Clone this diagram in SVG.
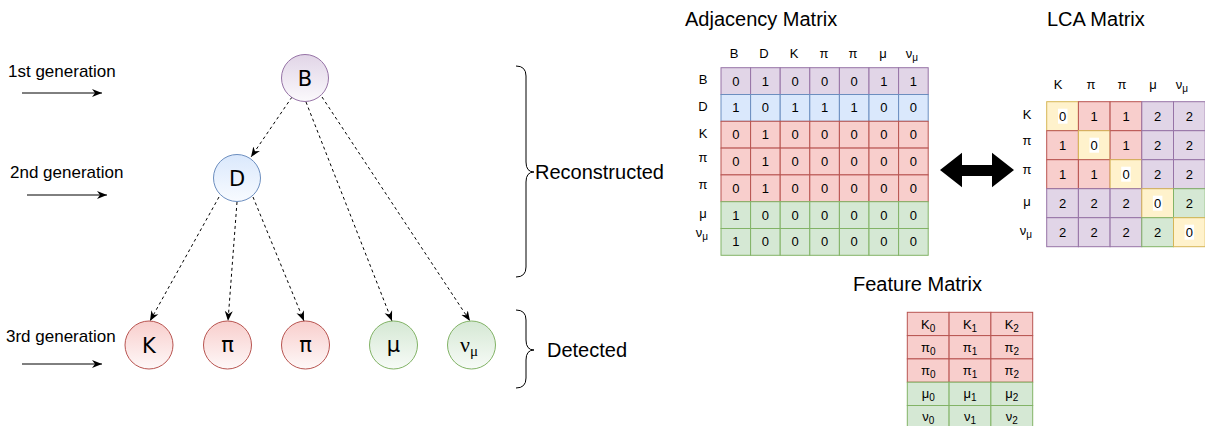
<svg xmlns="http://www.w3.org/2000/svg" width="1205" height="426" viewBox="0 0 1205 426">
<defs>
<style>
text{font-family:"Liberation Sans",Arial,sans-serif;fill:#000}
.lbl{font-size:17px}
.big{font-size:20px}
.hdr{font-size:13px;text-anchor:middle}
.val{font-size:13px;text-anchor:middle}
.nt{font-family:"DejaVu Sans",sans-serif;font-size:21px;text-anchor:middle}
.pu{fill:#e1d5e7;stroke:#9673a6;stroke-width:1}
.bl{fill:#dae8fc;stroke:#6c8ebf;stroke-width:1}
.rd{fill:#f8cecc;stroke:#b85450;stroke-width:1}
.gr{fill:#d5e8d4;stroke:#82b366;stroke-width:1}
.ye{fill:#fff2cc;stroke:#d6b656;stroke-width:1}
.edge{fill:none;stroke:#000;stroke-width:1;stroke-dasharray:3 3}
.solid{fill:none;stroke:#000;stroke-width:1}
.brace{fill:none;stroke:#000;stroke-width:1}
</style>
<marker id="arr" viewBox="0 0 10 10" refX="10" refY="5" markerWidth="10" markerHeight="10" markerUnits="userSpaceOnUse" orient="auto">
<path d="M0,1 L10,5 L0,9 L3,5 z" fill="#000"/>
</marker>
<linearGradient id="gPu" x1="0" y1="0" x2="0" y2="1"><stop offset="0" stop-color="#e1d5e7"/><stop offset="1" stop-color="#fbf9fc"/></linearGradient>
<linearGradient id="gBl" x1="0" y1="0" x2="0" y2="1"><stop offset="0" stop-color="#dae8fc"/><stop offset="1" stop-color="#f8fbff"/></linearGradient>
<linearGradient id="gRd" x1="0" y1="0" x2="0" y2="1"><stop offset="0" stop-color="#f8cecc"/><stop offset="1" stop-color="#fef8f8"/></linearGradient>
<linearGradient id="gGr" x1="0" y1="0" x2="0" y2="1"><stop offset="0" stop-color="#d5e8d4"/><stop offset="1" stop-color="#f7fbf7"/></linearGradient>
</defs>
<rect width="1205" height="426" fill="#fff"/>

<!-- generation labels -->
<g id="gen1"><text class="lbl" x="8" y="77">1st generation</text><line class="solid" x1="22" y1="93" x2="102" y2="93" marker-end="url(#arr)"/></g>
<g id="gen2"><text class="lbl" x="10" y="178">2nd generation</text><line class="solid" x1="27" y1="195" x2="107" y2="195" marker-end="url(#arr)"/></g>
<g id="gen3"><text class="lbl" x="6" y="342">3rd generation</text><line class="solid" x1="22" y1="364" x2="102" y2="364" marker-end="url(#arr)"/></g>

<!-- connectors -->
<g id="connectors">
<line class="edge" x1="292" y1="97" x2="251" y2="157" marker-end="url(#arr)"/>
<line class="edge" x1="306" y1="102" x2="392" y2="321" marker-end="url(#arr)"/>
<line class="edge" x1="322" y1="97" x2="470" y2="321" marker-end="url(#arr)"/>
<line class="edge" x1="219" y1="197" x2="150" y2="321" marker-end="url(#arr)"/>
<line class="edge" x1="237" y1="202" x2="228" y2="321" marker-end="url(#arr)"/>
<line class="edge" x1="253" y1="197" x2="304" y2="321" marker-end="url(#arr)"/>
</g>

<!-- tree nodes -->
<g id="nodeB"><circle cx="305" cy="78" r="23.5" fill="url(#gPu)" stroke="#9673a6"/><text class="nt" x="305" y="86">B</text></g>
<g id="nodeD"><circle cx="237" cy="178" r="23.5" fill="url(#gBl)" stroke="#6c8ebf"/><text class="nt" x="237" y="186">D</text></g>
<g id="nodeK"><circle cx="149" cy="345" r="24" fill="url(#gRd)" stroke="#b85450"/><text class="nt" x="149" y="353">K</text></g>
<g id="nodePi1"><circle cx="227.5" cy="345" r="24" fill="url(#gRd)" stroke="#b85450"/><text class="nt" x="227.5" y="352">π</text></g>
<g id="nodePi2"><circle cx="305.5" cy="345" r="24" fill="url(#gRd)" stroke="#b85450"/><text class="nt" x="305.5" y="352">π</text></g>
<g id="nodeMu"><circle cx="393.5" cy="345" r="24" fill="url(#gGr)" stroke="#82b366"/><text class="nt" x="393.5" y="352">μ</text></g>
<g id="nodeNu"><circle cx="471.5" cy="345" r="24" fill="url(#gGr)" stroke="#82b366"/><text x="469" y="352" style="font-family:'Liberation Serif',serif;font-size:22px;text-anchor:middle">ν<tspan font-size="15" dy="4">μ</tspan></text></g>

<!-- braces -->
<g id="reconstructed">
<path class="brace" d="M516,66 Q526,66 526,76 L526,162 Q526,172 534,172 Q526,172 526,182 L526,267 Q526,277 516,277"/>
<text class="big" x="535" y="179">Reconstructed</text>
</g>
<g id="detected">
<path class="brace" d="M516,310 Q526,310 526,320 L526,340 Q526,350 534,350 Q526,350 526,360 L526,378 Q526,388 516,388"/>
<text class="big" x="547" y="357">Detected</text>
</g>

<!-- Adjacency matrix -->
<g id="adjacency">
<text class="big" x="685" y="26">Adjacency Matrix</text>
<g class="hdr-row">
<text class="hdr" x="734" y="58">B</text>
<text class="hdr" x="764" y="58">D</text>
<text class="hdr" x="794" y="58">K</text>
<text class="hdr" x="824" y="58">π</text>
<text class="hdr" x="853" y="58">π</text>
<text class="hdr" x="883" y="58">μ</text>
<text class="hdr" x="912" y="58">ν<tspan font-size="10" dy="3">μ</tspan></text>
</g>
<text class="hdr" x="703" y="84">B</text>
<text class="hdr" x="703" y="111">D</text>
<text class="hdr" x="703" y="138">K</text>
<text class="hdr" x="703" y="162">π</text>
<text class="hdr" x="703" y="189">π</text>
<text class="hdr" x="703" y="218">μ</text>
<text class="hdr" x="702" y="237">ν<tspan font-size="10" dy="3">μ</tspan></text>
<g id="adjR1">
<rect class="pu" x="721" y="67.7" width="29.6" height="26.8"/><rect class="pu" x="750.6" y="67.7" width="29.6" height="26.8"/><rect class="pu" x="780.2" y="67.7" width="29.6" height="26.8"/><rect class="pu" x="809.8" y="67.7" width="29.6" height="26.8"/><rect class="pu" x="839.4" y="67.7" width="29.6" height="26.8"/><rect class="pu" x="869" y="67.7" width="29.6" height="26.8"/><rect class="pu" x="898.6" y="67.7" width="29.6" height="26.8"/>
<text class="val" y="85.6"><tspan x="735.8">0</tspan><tspan x="765.4">1</tspan><tspan x="795">0</tspan><tspan x="824.6">0</tspan><tspan x="854.2">0</tspan><tspan x="883.8">1</tspan><tspan x="913.4">1</tspan></text>
</g>
<g id="adjR2">
<rect class="bl" x="721" y="94.5" width="29.6" height="26.8"/><rect class="bl" x="750.6" y="94.5" width="29.6" height="26.8"/><rect class="bl" x="780.2" y="94.5" width="29.6" height="26.8"/><rect class="bl" x="809.8" y="94.5" width="29.6" height="26.8"/><rect class="bl" x="839.4" y="94.5" width="29.6" height="26.8"/><rect class="bl" x="869" y="94.5" width="29.6" height="26.8"/><rect class="bl" x="898.6" y="94.5" width="29.6" height="26.8"/>
<text class="val" y="112.4"><tspan x="735.8">1</tspan><tspan x="765.4">0</tspan><tspan x="795">1</tspan><tspan x="824.6">1</tspan><tspan x="854.2">1</tspan><tspan x="883.8">0</tspan><tspan x="913.4">0</tspan></text>
</g>
<g id="adjR3">
<rect class="rd" x="721" y="121.3" width="29.6" height="26.8"/><rect class="rd" x="750.6" y="121.3" width="29.6" height="26.8"/><rect class="rd" x="780.2" y="121.3" width="29.6" height="26.8"/><rect class="rd" x="809.8" y="121.3" width="29.6" height="26.8"/><rect class="rd" x="839.4" y="121.3" width="29.6" height="26.8"/><rect class="rd" x="869" y="121.3" width="29.6" height="26.8"/><rect class="rd" x="898.6" y="121.3" width="29.6" height="26.8"/>
<text class="val" y="139.2"><tspan x="735.8">0</tspan><tspan x="765.4">1</tspan><tspan x="795">0</tspan><tspan x="824.6">0</tspan><tspan x="854.2">0</tspan><tspan x="883.8">0</tspan><tspan x="913.4">0</tspan></text>
</g>
<g id="adjR4">
<rect class="rd" x="721" y="148.1" width="29.6" height="26.8"/><rect class="rd" x="750.6" y="148.1" width="29.6" height="26.8"/><rect class="rd" x="780.2" y="148.1" width="29.6" height="26.8"/><rect class="rd" x="809.8" y="148.1" width="29.6" height="26.8"/><rect class="rd" x="839.4" y="148.1" width="29.6" height="26.8"/><rect class="rd" x="869" y="148.1" width="29.6" height="26.8"/><rect class="rd" x="898.6" y="148.1" width="29.6" height="26.8"/>
<text class="val" y="166"><tspan x="735.8">0</tspan><tspan x="765.4">1</tspan><tspan x="795">0</tspan><tspan x="824.6">0</tspan><tspan x="854.2">0</tspan><tspan x="883.8">0</tspan><tspan x="913.4">0</tspan></text>
</g>
<g id="adjR5">
<rect class="rd" x="721" y="174.9" width="29.6" height="26.8"/><rect class="rd" x="750.6" y="174.9" width="29.6" height="26.8"/><rect class="rd" x="780.2" y="174.9" width="29.6" height="26.8"/><rect class="rd" x="809.8" y="174.9" width="29.6" height="26.8"/><rect class="rd" x="839.4" y="174.9" width="29.6" height="26.8"/><rect class="rd" x="869" y="174.9" width="29.6" height="26.8"/><rect class="rd" x="898.6" y="174.9" width="29.6" height="26.8"/>
<text class="val" y="192.8"><tspan x="735.8">0</tspan><tspan x="765.4">1</tspan><tspan x="795">0</tspan><tspan x="824.6">0</tspan><tspan x="854.2">0</tspan><tspan x="883.8">0</tspan><tspan x="913.4">0</tspan></text>
</g>
<g id="adjR6">
<rect class="gr" x="721" y="201.7" width="29.6" height="26.8"/><rect class="gr" x="750.6" y="201.7" width="29.6" height="26.8"/><rect class="gr" x="780.2" y="201.7" width="29.6" height="26.8"/><rect class="gr" x="809.8" y="201.7" width="29.6" height="26.8"/><rect class="gr" x="839.4" y="201.7" width="29.6" height="26.8"/><rect class="gr" x="869" y="201.7" width="29.6" height="26.8"/><rect class="gr" x="898.6" y="201.7" width="29.6" height="26.8"/>
<text class="val" y="219.6"><tspan x="735.8">1</tspan><tspan x="765.4">0</tspan><tspan x="795">0</tspan><tspan x="824.6">0</tspan><tspan x="854.2">0</tspan><tspan x="883.8">0</tspan><tspan x="913.4">0</tspan></text>
</g>
<g id="adjR7">
<rect class="gr" x="721" y="228.5" width="29.6" height="26.8"/><rect class="gr" x="750.6" y="228.5" width="29.6" height="26.8"/><rect class="gr" x="780.2" y="228.5" width="29.6" height="26.8"/><rect class="gr" x="809.8" y="228.5" width="29.6" height="26.8"/><rect class="gr" x="839.4" y="228.5" width="29.6" height="26.8"/><rect class="gr" x="869" y="228.5" width="29.6" height="26.8"/><rect class="gr" x="898.6" y="228.5" width="29.6" height="26.8"/>
<text class="val" y="246.4"><tspan x="735.8">1</tspan><tspan x="765.4">0</tspan><tspan x="795">0</tspan><tspan x="824.6">0</tspan><tspan x="854.2">0</tspan><tspan x="883.8">0</tspan><tspan x="913.4">0</tspan></text>
</g>
</g>

<!-- double arrow -->
<g id="dblarrow"><polygon points="940,170 962,152.7 962,165 992,165 992,152.7 1014,170 992,187.3 992,176 962,176 962,187.3" fill="#000"/></g>

<!-- LCA matrix -->
<g id="lca">
<text class="big" x="1047" y="26">LCA Matrix</text>
<text class="hdr" x="1058" y="89">K</text>
<text class="hdr" x="1091" y="89">π</text>
<text class="hdr" x="1122" y="89">π</text>
<text class="hdr" x="1153" y="89">μ</text>
<text class="hdr" x="1182" y="89">ν<tspan font-size="10" dy="3">μ</tspan></text>
<text class="hdr" x="1027" y="119">K</text>
<text class="hdr" x="1027" y="145">π</text>
<text class="hdr" x="1027" y="174">π</text>
<text class="hdr" x="1027" y="206">μ</text>
<text class="hdr" x="1026" y="235">ν<tspan font-size="10" dy="3">μ</tspan></text>
<g id="lcaR1">
<rect class="ye" x="1046.7" y="101.7" width="31.7" height="29"/><rect class="rd" x="1078.4" y="101.7" width="31.7" height="29"/><rect class="rd" x="1110.1" y="101.7" width="31.7" height="29"/><rect class="pu" x="1141.8" y="101.7" width="31.7" height="29"/><rect class="pu" x="1173.5" y="101.7" width="31.7" height="29"/>
<rect x="1058" y="108.7" width="9.5" height="15" fill="#fff"/>
<text class="val" y="120.7"><tspan x="1062.5">0</tspan><tspan x="1094.2">1</tspan><tspan x="1126">1</tspan><tspan x="1157.6">2</tspan><tspan x="1189.3">2</tspan></text>
</g>
<g id="lcaR2">
<rect class="rd" x="1046.7" y="130.7" width="31.7" height="29"/><rect class="ye" x="1078.4" y="130.7" width="31.7" height="29"/><rect class="rd" x="1110.1" y="130.7" width="31.7" height="29"/><rect class="pu" x="1141.8" y="130.7" width="31.7" height="29"/><rect class="pu" x="1173.5" y="130.7" width="31.7" height="29"/>
<rect x="1089.5" y="137.7" width="9.5" height="15" fill="#fff"/>
<text class="val" y="149.7"><tspan x="1062.5">1</tspan><tspan x="1094.2">0</tspan><tspan x="1126">1</tspan><tspan x="1157.6">2</tspan><tspan x="1189.3">2</tspan></text>
</g>
<g id="lcaR3">
<rect class="rd" x="1046.7" y="159.7" width="31.7" height="29"/><rect class="rd" x="1078.4" y="159.7" width="31.7" height="29"/><rect class="ye" x="1110.1" y="159.7" width="31.7" height="29"/><rect class="pu" x="1141.8" y="159.7" width="31.7" height="29"/><rect class="pu" x="1173.5" y="159.7" width="31.7" height="29"/>
<rect x="1121.2" y="166.7" width="9.5" height="15" fill="#fff"/>
<text class="val" y="178.7"><tspan x="1062.5">1</tspan><tspan x="1094.2">1</tspan><tspan x="1126">0</tspan><tspan x="1157.6">2</tspan><tspan x="1189.3">2</tspan></text>
</g>
<g id="lcaR4">
<rect class="pu" x="1046.7" y="188.7" width="31.7" height="29"/><rect class="pu" x="1078.4" y="188.7" width="31.7" height="29"/><rect class="pu" x="1110.1" y="188.7" width="31.7" height="29"/><rect class="ye" x="1141.8" y="188.7" width="31.7" height="29"/><rect class="gr" x="1173.5" y="188.7" width="31.7" height="29"/>
<rect x="1152.9" y="195.7" width="9.5" height="15" fill="#fff"/>
<text class="val" y="207.7"><tspan x="1062.5">2</tspan><tspan x="1094.2">2</tspan><tspan x="1126">2</tspan><tspan x="1157.6">0</tspan><tspan x="1189.3">2</tspan></text>
</g>
<g id="lcaR5">
<rect class="pu" x="1046.7" y="217.7" width="31.7" height="29"/><rect class="pu" x="1078.4" y="217.7" width="31.7" height="29"/><rect class="pu" x="1110.1" y="217.7" width="31.7" height="29"/><rect class="gr" x="1141.8" y="217.7" width="31.7" height="29"/><rect class="ye" x="1173.5" y="217.7" width="31.7" height="29"/>
<rect x="1184.6" y="224.7" width="9.5" height="15" fill="#fff"/>
<text class="val" y="236.7"><tspan x="1062.5">2</tspan><tspan x="1094.2">2</tspan><tspan x="1126">2</tspan><tspan x="1157.6">2</tspan><tspan x="1189.3">0</tspan></text>
</g>
</g>

<!-- Feature matrix -->
<g id="feature">
<text class="big" x="853" y="291">Feature Matrix</text>
<g id="fR1">
<rect class="rd" x="907.3" y="312.3" width="41.8" height="23.3"/><rect class="rd" x="949.1" y="312.3" width="41.8" height="23.3"/><rect class="rd" x="990.9" y="312.3" width="41.8" height="23.3"/>
<text class="val" x="928.2" y="328.5">K<tspan font-size="10" dy="3">0</tspan></text><text class="val" x="970" y="328.5">K<tspan font-size="10" dy="3">1</tspan></text><text class="val" x="1011.8" y="328.5">K<tspan font-size="10" dy="3">2</tspan></text>
</g>
<g id="fR2">
<rect class="rd" x="907.3" y="335.6" width="41.8" height="23.3"/><rect class="rd" x="949.1" y="335.6" width="41.8" height="23.3"/><rect class="rd" x="990.9" y="335.6" width="41.8" height="23.3"/>
<text class="val" x="928.2" y="351.8">π<tspan font-size="10" dy="3">0</tspan></text><text class="val" x="970" y="351.8">π<tspan font-size="10" dy="3">1</tspan></text><text class="val" x="1011.8" y="351.8">π<tspan font-size="10" dy="3">2</tspan></text>
</g>
<g id="fR3">
<rect class="rd" x="907.3" y="358.9" width="41.8" height="23.3"/><rect class="rd" x="949.1" y="358.9" width="41.8" height="23.3"/><rect class="rd" x="990.9" y="358.9" width="41.8" height="23.3"/>
<text class="val" x="928.2" y="375.1">π<tspan font-size="10" dy="3">0</tspan></text><text class="val" x="970" y="375.1">π<tspan font-size="10" dy="3">1</tspan></text><text class="val" x="1011.8" y="375.1">π<tspan font-size="10" dy="3">2</tspan></text>
</g>
<g id="fR4">
<rect class="gr" x="907.3" y="382.2" width="41.8" height="23.3"/><rect class="gr" x="949.1" y="382.2" width="41.8" height="23.3"/><rect class="gr" x="990.9" y="382.2" width="41.8" height="23.3"/>
<text class="val" x="928.2" y="398.4">μ<tspan font-size="10" dy="3">0</tspan></text><text class="val" x="970" y="398.4">μ<tspan font-size="10" dy="3">1</tspan></text><text class="val" x="1011.8" y="398.4">μ<tspan font-size="10" dy="3">2</tspan></text>
</g>
<g id="fR5">
<rect class="gr" x="907.3" y="405.5" width="41.8" height="23.3"/><rect class="gr" x="949.1" y="405.5" width="41.8" height="23.3"/><rect class="gr" x="990.9" y="405.5" width="41.8" height="23.3"/>
<text class="val" x="928.2" y="421.2">ν<tspan font-size="10" dy="3">0</tspan></text><text class="val" x="970" y="421.2">ν<tspan font-size="10" dy="3">1</tspan></text><text class="val" x="1011.8" y="421.2">ν<tspan font-size="10" dy="3">2</tspan></text>
</g>
</g>
</svg>
